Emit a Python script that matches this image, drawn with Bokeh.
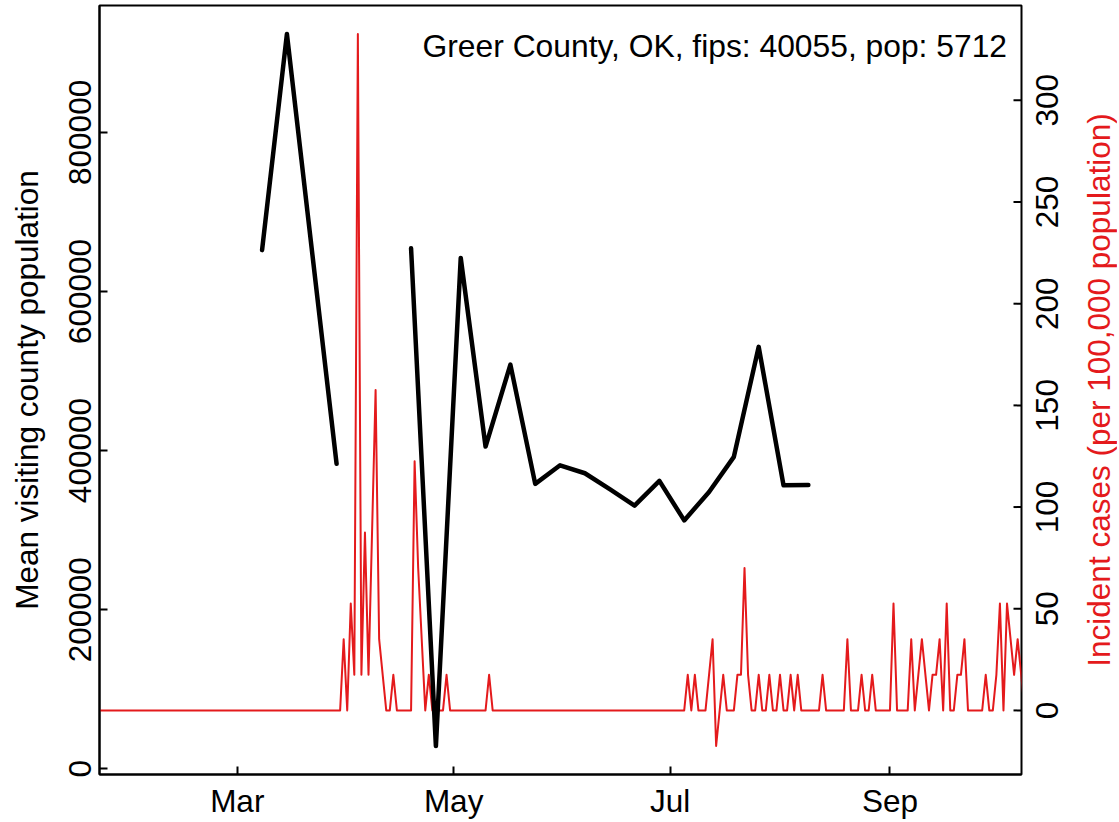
import math
import numpy as np
import pandas as pd
from bokeh.plotting import figure
from bokeh.layouts import row
from bokeh.core.properties import value
from bokeh.models import (Range1d, FixedTicker, NumeralTickFormatter,
                          DatetimeTickFormatter, Label)
from bokeh.embed import file_html
from bokeh.resources import INLINE

# ---------------- data ----------------
county_label = "Greer County, OK, fips: 40055, pop: 5712"
county_pop = 5712
left_title = "Mean visiting county population"
right_title = "Incident cases (per 100,000 population)"

visit_dates = ["2020-03-08", "2020-03-15", "2020-03-29", "2020-04-05", "2020-04-12",
               "2020-04-19", "2020-04-26", "2020-05-03", "2020-05-10", "2020-05-17",
               "2020-05-24", "2020-05-31", "2020-06-07", "2020-06-14", "2020-06-21",
               "2020-06-28", "2020-07-05", "2020-07-12", "2020-07-19", "2020-07-26",
               "2020-08-02", "2020-08-09"]
visit_pop = [652000, 923700, 383300, None, None,
             654200, 28600, 642200, 405000, 508100,
             358100, 381500, 371500, 351500, 330800,
             361900, 312200, 348000, 392100, 530400,
             356300, 356700]

case_start = "2020-01-22"
daily_cases = [
    0, 0, 0, 0, 0, 0, 0, 0, 0, 0, 0, 0, 0, 0, 0, 0, 0, 0, 0, 0,
    0, 0, 0, 0, 0, 0, 0, 0, 0, 0, 0, 0, 0, 0, 0, 0, 0, 0, 0, 0,
    0, 0, 0, 0, 0, 0, 0, 0, 0, 0, 0, 0, 0, 0, 0, 0, 0, 0, 0, 0,
    0, 0, 0, 0, 0, 0, 0, 0, 0, 2, 0, 3, 1, 19, 1, 5, 1, 5, 9, 2,
    1, 0, 0, 1, 0, 0, 0, 0, 0, 7, 4, 2, 0, 1, 0, 0, 0, 0, 1, 0,
    0, 0, 0, 0, 0, 0, 0, 0, 0, 0, 1, 0, 0, 0, 0, 0, 0, 0, 0, 0,
    0, 0, 0, 0, 0, 0, 0, 0, 0, 0, 0, 0, 0, 0, 0, 0, 0, 0, 0, 0,
    0, 0, 0, 0, 0, 0, 0, 0, 0, 0, 0, 0, 0, 0, 0, 0, 0, 0, 0, 0,
    0, 0, 0, 0, 0, 0, 1, 0, 1, 0, 0, 0, 1, 2, -1, 0, 1, 0, 0, 0,
    1, 1, 4, 1, 0, 0, 1, 0, 0, 1, 0, 0, 1, 0, 0, 1, 0, 1, 0, 0,
    0, 0, 0, 0, 1, 0, 0, 0, 0, 0, 0, 2, 0, 0, 0, 1, 0, 0, 1, 0,
    0, 0, 0, 0, 3, 0, 0, 0, 0, 2, 0, 1, 2, 1, 0, 1, 1, 2, 0, 3,
    0, 0, 1, 1, 2, 0, 0, 0, 0, 0, 1, 0, 0, 1, 3, 0, 3, 2, 1, 2,
    1, 0,
]

x_tick_dates = ["2020-03-01", "2020-05-01", "2020-07-01", "2020-09-01"]
left_ticks = [0, 200000, 400000, 600000, 800000]
right_ticks = [0, 50, 100, 150, 200, 250, 300]
view_start = "2020-01-22 04:00"
view_end = "2020-10-08 02:00"

# ---------------- derived ----------------
RED = "#E41A1C"
FONT = "Liberation Sans"
FS = "31.5px"


def ms(s):
    return pd.Timestamp(s).value / 1e6


vd = pd.to_datetime(visit_dates)
vp = np.array([np.nan if v is None else v for v in visit_pop], dtype=float)
cd = pd.date_range(case_start, periods=len(daily_cases), freq="D")
incid = np.array(daily_cases, dtype=float) * 1e5 / county_pop


def padded(lo, hi, f=0.04):
    d = hi - lo
    return lo - f * d, hi + f * d


y0, y1 = padded(np.nanmin(vp), np.nanmax(vp))
r0, r1 = padded(incid.min(), incid.max())

# geometry (pixels)
B_LEFT, FRAME_W, B_RIGHT = 99, 922, 2
B_TOP, FRAME_H, B_BOTTOM = 5, 769, 47
WM = B_LEFT + FRAME_W + B_RIGHT
H = B_TOP + FRAME_H + B_BOTTOM
WS = 94

case_range = Range1d(r0, r1)

p = figure(width=WM, height=H, x_axis_type="datetime",
           output_backend="svg", toolbar_location=None,
           x_range=Range1d(ms(view_start), ms(view_end)),
           y_range=Range1d(y0, y1),
           min_border_left=B_LEFT, min_border_right=B_RIGHT,
           min_border_top=B_TOP, min_border_bottom=B_BOTTOM)
p.extra_y_ranges = {"cases": case_range}
p.grid.visible = False
p.outline_line_color = "black"
p.outline_line_width = 2
p.background_fill_color = "white"
p.border_fill_color = "white"


def style_axis(ax):
    ax.axis_line_color = "black"
    ax.axis_line_width = 2
    ax.major_tick_line_color = "black"
    ax.major_tick_line_width = 2
    ax.major_tick_in = 8
    ax.major_tick_out = 0
    ax.minor_tick_line_color = None
    ax.major_label_text_font = FONT
    ax.major_label_text_font_size = FS
    ax.major_label_text_color = "black"
    ax.major_label_standoff = 8


xax = p.xaxis[0]
style_axis(xax)
xax.ticker = FixedTicker(ticks=[ms(t) for t in x_tick_dates])
fmt = "%b"
xax.formatter = DatetimeTickFormatter(milliseconds=fmt, seconds=fmt, minsec=fmt,
                                      minutes=fmt, hourmin=fmt, hours=fmt,
                                      days=fmt, months=fmt, years=fmt)

lax = p.yaxis[0]
style_axis(lax)
lax.ticker = FixedTicker(ticks=left_ticks)
lax.formatter = NumeralTickFormatter(format="0")
lax.major_label_orientation = "parallel"
lax.axis_label = left_title
lax.axis_label_text_font = FONT
lax.axis_label_text_font_size = FS
lax.axis_label_text_font_style = "normal"
lax.axis_label_text_color = "black"
lax.axis_label_standoff = 22

# right-axis ticks (inward), on the incidence scale
p.ray(x=[ms(view_end)] * len(right_ticks), y=right_ticks, length=8,
      length_units="screen", angle=math.pi, y_range_name="cases",
      line_color="black", line_width=2)

# ---------------- lines ----------------
p.line(cd, incid, y_range_name="cases", line_color=RED, line_width=2,
       line_join="round", line_cap="round")
p.line(vd, vp, line_color="black", line_width=4.5,
       line_join="round", line_cap="round")

# ---------------- title text ----------------
p.add_layout(Label(x=ms(view_end), y=y1, x_offset=-14.5, y_offset=-40,
                   text=county_label, text_align="right",
                   text_baseline="alphabetic", text_font=FONT,
                   text_font_size="31.8px", text_color="black"))

# ---------------- right side: tick labels + axis title ----------------
side = figure(width=WS, height=H, x_range=Range1d(0, WS), y_range=case_range,
              output_backend="svg", toolbar_location=None,
              x_axis_location=None, y_axis_location=None,
              min_border_left=0, min_border_right=0,
              min_border_top=B_TOP, min_border_bottom=B_BOTTOM)
side.outline_line_color = None
side.grid.visible = False
side.background_fill_color = "white"
side.border_fill_color = "white"

side.text(x=[23.5] * len(right_ticks), y=right_ticks,
          text=[str(t) for t in right_ticks], angle=math.pi / 2,
          text_align="center", text_baseline="middle",
          text_font=value(FONT), text_font_size=value(FS), text_color="black")
side.text(x=[75], y=[(r0 + r1) / 2.0], text=[right_title], angle=math.pi / 2,
          text_align="center", text_baseline="middle",
          text_font=value(FONT), text_font_size=value(FS), text_color=RED)

layout = row(p, side)
open("out.html", "w").write(file_html(layout, INLINE))
